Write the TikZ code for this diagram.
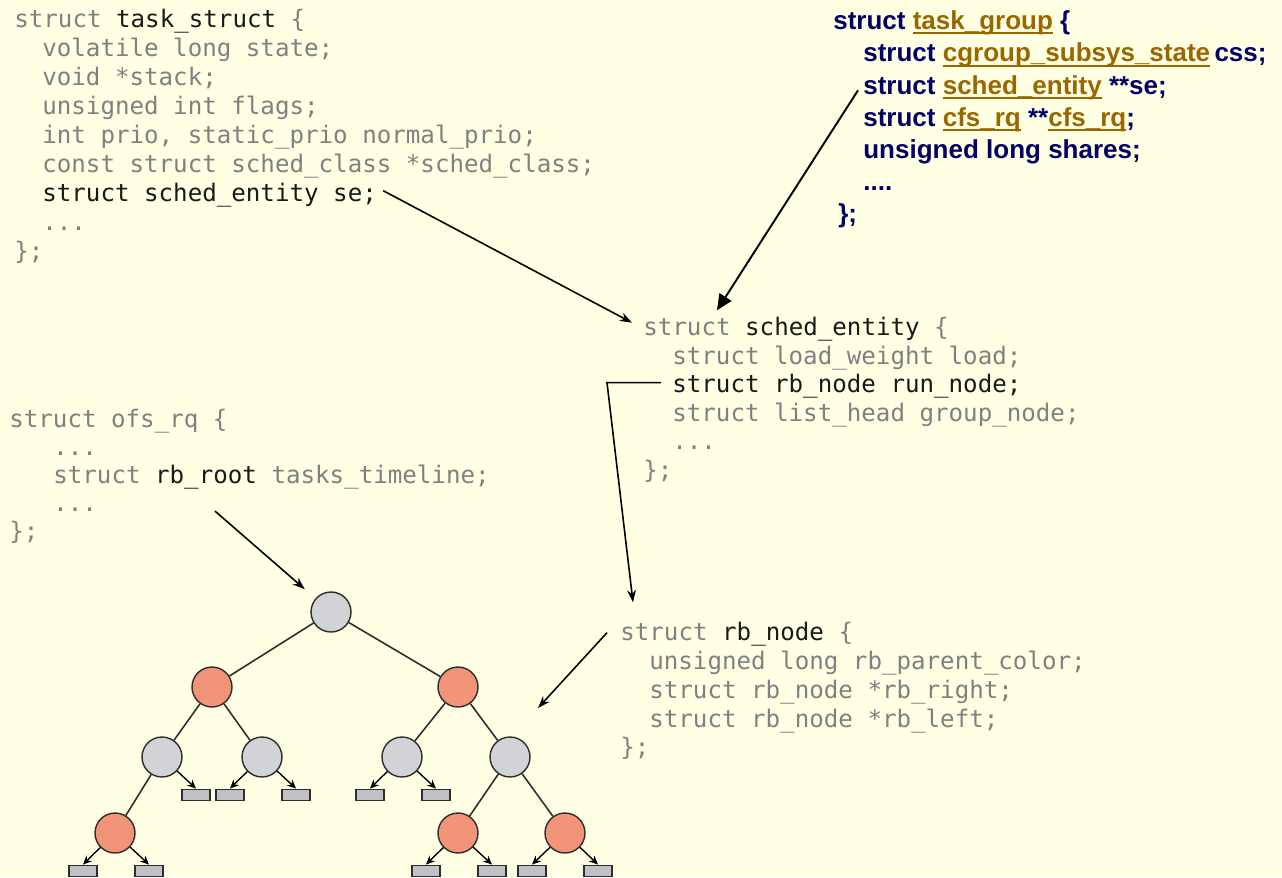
\documentclass[tikz,border=0pt]{standalone}
\usepackage{fontspec}
\usepackage{tikz}
\usetikzlibrary{positioning, calc, arrows.meta}

\newfontfamily\codefont{DejaVu Sans Mono}
\newfontfamily\tgfont{Liberation Sans}

\definecolor{bgyellow}{RGB}{255,255,228}
\definecolor{codegray}{RGB}{128,128,128}
\definecolor{codedark}{RGB}{25,25,25}
\definecolor{tgnavy}{RGB}{0,0,102}
\definecolor{tgbrown}{RGB}{153,102,0}
\definecolor{rbredfill}{RGB}{242,148,120}
\definecolor{rbgrayfill}{RGB}{210,211,215}
\definecolor{leaffill}{RGB}{192,193,198}
\definecolor{treeedge}{RGB}{45,45,45}

\newcommand{\dk}[1]{\textcolor{codedark}{#1}}
\newcommand{\tgul}[1]{\textcolor{tgbrown}{\setbox0\hbox{#1}\rlap{\rule[-3pt]{\wd0}{1.2pt}}\box0}}

\tikzset{
  code/.style={font=\codefont\fontsize{13.75}{16}\selectfont, text=codegray, inner sep=0pt, anchor=base west},
  tgline/.style={font=\tgfont\bfseries\fontsize{14.8}{17}\selectfont, text=tgnavy, inner sep=0pt, anchor=base west},
  rbred/.style={circle, draw=treeedge, line width=0.8pt, fill=rbredfill, minimum size=0.8cm, inner sep=0pt},
  rbgray/.style={circle, draw=treeedge, line width=0.8pt, fill=rbgrayfill, minimum size=0.8cm, inner sep=0pt},
  nilleaf/.style={rectangle, draw=treeedge, line width=0.8pt, fill=leaffill, minimum width=0.56cm, minimum height=0.23cm, inner sep=0pt},
  treeline/.style={draw=treeedge, line width=0.9pt},
  ptr/.style={-{Stealth[length=7pt,width=5pt]}, line width=0.9pt},
  bigptr/.style={-{Triangle[length=9pt,width=8pt]}, line width=1.1pt},
  leafptr/.style={-{Stealth[length=5pt,width=4.5pt]}, draw=black, line width=0.8pt}
}

\begin{document}
\begin{tikzpicture}[x=0.02cm, y=-0.02cm]
    \useasboundingbox (0,0) rectangle (1282,877);
    \fill[bgyellow] (0,0) rectangle (1282,877);

    % task_struct
    \node[code] (ts0) at (14,27) {struct \dk{task\_struct} \{};
    \node[code] (ts1) at (42,56) {volatile long state;};
    \node[code] (ts2) at (42,85) {void *stack;};
    \node[code] (ts3) at (42,114) {unsigned int flags;};
    \node[code] (ts4) at (42,143) {int prio, static\_prio normal\_prio;};
    \node[code] (ts5) at (42,172) {const struct sched\_class *sched\_class;};
    \node[code] (tsse) at (42,201) {\dk{struct sched\_entity se;}};
    \node[code] (ts7) at (42,230) {...};
    \node[code] (ts8) at (14,259) {\};};

    % task_group
    \node[tgline] (tg0) at (833,29) {struct \tgul{task\_group} \{};
    \node[tgline] (tg1) at (863,61.5) {struct \tgul{cgroup\_subsys\_state}\,css;};
    \node[tgline] (tg2) at (863,94) {struct \tgul{sched\_entity} **se;};
    \node[tgline] (tg3) at (863,126) {struct \tgul{cfs\_rq} **\tgul{cfs\_rq};};
    \node[tgline] (tg4) at (863,158) {unsigned long shares;};
    \node[tgline] (tg5) at (863,190) {....};
    \node[tgline] (tg6) at (838,222) {\};};

    % sched_entity
    \node[code] (se0) at (643,335) {struct \dk{sched\_entity} \{};
    \node[code] (se1) at (672,364) {struct load\_weight load;};
    \node[code] (se2) at (672,392) {\dk{struct rb\_node run\_node;}};
    \node[code] (se3) at (672,421) {struct list\_head group\_node;};
    \node[code] (se4) at (672,449) {...};
    \node[code] (se5) at (643,478) {\};};

    % ofs_rq
    \node[code] (ofs0) at (9,427) {struct ofs\_rq \{};
    \node[code] (ofs1) at (53,455) {...};
    \node[code] (ofs2) at (53,483) {struct \dk{rb\_root} tasks\_timeline;};
    \node[code] (ofs3) at (53,511) {...};
    \node[code] (ofs4) at (9,539) {\};};

    % rb_node
    \node[code] (rb0) at (620,640) {struct \dk{rb\_node} \{};
    \node[code] (rb1) at (649,669) {unsigned long rb\_parent\_color;};
    \node[code] (rb2) at (649,698) {struct rb\_node *rb\_right;};
    \node[code] (rb3) at (649,727) {struct rb\_node *rb\_left;};
    \node[code] (rb4) at (620,755) {\};};

    % red-black tree
    \node[rbgray] (root) at (331,612) {};
    \node[rbred] (rA) at (212,687) {};
    \node[rbred] (rB) at (458,687) {};
    \node[rbgray] (gA1) at (162,757) {};
    \node[rbgray] (gA2) at (262,757) {};
    \node[rbgray] (gB1) at (402,757) {};
    \node[rbgray] (gB2) at (510,757) {};
    \node[rbred] (rC) at (115,833) {};
    \node[rbred] (rD) at (458,833) {};
    \node[rbred] (rE) at (565,833) {};

    \node[nilleaf] (l1) at (196,795) {};
    \node[nilleaf] (l2) at (230,795) {};
    \node[nilleaf] (l3) at (296,795) {};
    \node[nilleaf] (l4) at (370,795) {};
    \node[nilleaf] (l5) at (436,795) {};
    \node[nilleaf] (l6) at (83,871) {};
    \node[nilleaf] (l7) at (149,871) {};
    \node[nilleaf] (l8) at (426,871) {};
    \node[nilleaf] (l9) at (492,871) {};
    \node[nilleaf] (l10) at (532,871) {};
    \node[nilleaf] (l11) at (598,871) {};

    \foreach \a/\b in {root/rA, root/rB, rA/gA1, rA/gA2, rB/gB1, rB/gB2, gA1/rC, gB2/rD, gB2/rE}
        \draw[treeline] (\a) -- (\b);
    \foreach \p/\l in {gA1/l1, gA2/l2, gA2/l3, gB1/l4, gB1/l5, rC/l6, rC/l7, rD/l8, rD/l9, rE/l10, rE/l11}
        \draw[leafptr] (\p) -- (\l.north);

    % pointers
    \coordinate (rbtip) at (538,708);
    \draw[ptr] ($(tsse.east)+(6,-4)$) -- ($(se0.west)+(-11,-6)$);
    \draw[bigptr] ($(tg2.west)+(-5,3)$) -- ($(se0.north west)+(74,-6)$);
    \draw[ptr] ($(se2.west)+(-11,-3)$) -- ++(-54,0) -- ($(rb0.north west)+(13,-19)$);
    \draw[ptr, shorten >=8pt] ($(ofs2.south west)+(162,22)$) -- (root);
    \draw[ptr] ($(rb0.west)+(-13,-1)$) -- (rbtip);

\end{tikzpicture}
\end{document}
